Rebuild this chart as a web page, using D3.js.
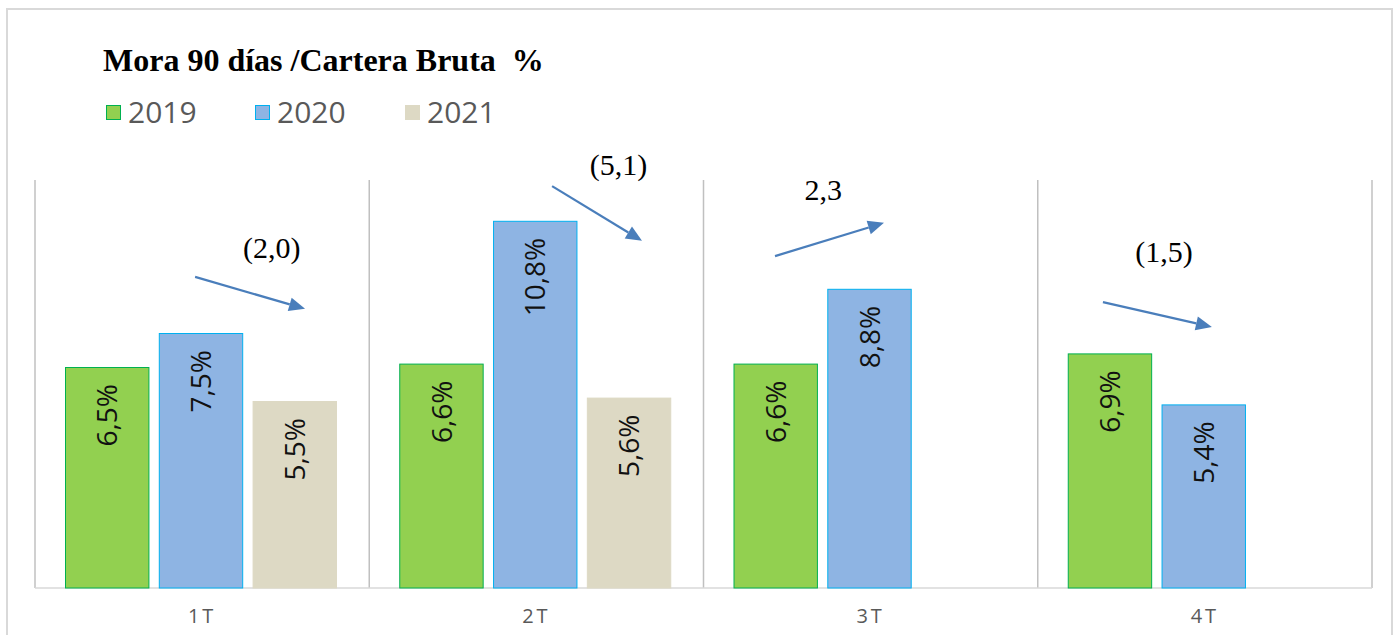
<!DOCTYPE html>
<html><head><meta charset="utf-8">
<script src="https://cdn.jsdelivr.net/npm/d3@7"></script>
<style>html,body{margin:0;padding:0;background:#fff;}</style>
</head><body>
<svg id="chart" width="1397" height="635"></svg>
<script>
const categories = ["1T", "2T", "3T", "4T"];
const years = ["2019", "2020", "2021"];
const values2019 = [6.5, 6.6, 6.6, 6.9];
const values2020 = [7.5, 10.8, 8.8, 5.4];
const values2021 = [5.5, 5.6, null, null];
const labels2019 = ["6,5%", "6,6%", "6,6%", "6,9%"];
const labels2020 = ["7,5%", "10,8%", "8,8%", "5,4%"];
const labels2021 = ["5,5%", "5,6%", null, null];
const annTexts = ["(2,0)", "(5,1)", "2,3", "(1,5)"];
// arrow start/end: fraction across category band, value on y scale
const annStartX = [0.479, 0.547, 0.214, 0.195];
const annStartV = [9.15, 11.82, 9.76, 8.41];
const annEndX = [0.808, 0.816, 0.540, 0.521];
const annEndV = [8.21, 10.21, 10.74, 7.68];
const annLabelX = [0.708, 0.746, 0.358, 0.378];
const annLabelV = [10.0, 12.44, 11.71, 9.88];

const fills = {"2019": "#92d050", "2020": "#8eb4e3", "2021": "#ddd9c4"};
const strokes = {"2019": "#00b050", "2020": "#00b0f0", "2021": "#ddd9c4"};
const seriesVals = {"2019": values2019, "2020": values2020, "2021": values2021};
const seriesLabels = {"2019": labels2019, "2020": labels2020, "2021": labels2021};

const svg = d3.select("#chart");
// outer frame
svg.append("rect").attr("x", 7).attr("y", 9).attr("width", 1385).attr("height", 700)
  .attr("fill", "none").attr("stroke", "#d9d9d9").attr("stroke-width", 2);

const pLeft = 35, pRight = 1372, pTop = 180, pBottom = 588;
const x0 = d3.scaleBand().domain(categories).range([pLeft, pRight]).paddingInner(0).paddingOuter(0);
const x1 = d3.scaleBand().domain(years).range([30, 302]).paddingInner(0.1).paddingOuter(0);
const y = d3.scaleLinear().domain([0, 12]).range([pBottom, pTop]);

// title
svg.append("text").attr("x", 103).attr("y", 71)
  .attr("font-family", "Liberation Serif, Times New Roman, serif").attr("font-weight", "bold")
  .attr("font-size", 32).attr("fill", "#000").attr("xml:space", "preserve")
  .text("Mora 90 días /Cartera Bruta  %");

// legend
const legX = [106, 255, 405];
years.forEach((yr, i) => {
  const g = svg.append("g").attr("transform", `translate(${legX[i]},105)`);
  g.append("rect").attr("x", 0.5).attr("y", 0.5).attr("width", 14).attr("height", 14)
    .attr("fill", fills[yr]).attr("stroke", strokes[yr]).attr("stroke-width", 1);
  g.append("text").attr("x", 22).attr("y", 18).attr("font-family", "Open Sans, sans-serif")
    .attr("font-size", 30).attr("fill", "#595959").text(yr);
});

// separators
const bounds = categories.map(c => x0(c)).concat([pRight]);
svg.selectAll("line.sep").data(bounds).enter().append("line").attr("class", "sep")
  .attr("x1", d => d).attr("x2", d => d).attr("y1", pTop).attr("y2", pBottom)
  .attr("stroke", "#c0c0c0").attr("stroke-width", 1.5);

// baseline
svg.append("line").attr("x1", pLeft).attr("x2", pRight).attr("y1", pBottom).attr("y2", pBottom)
  .attr("stroke", "#d9d9d9").attr("stroke-width", 1.5);

// x axis labels
const xAxis = d3.axisBottom(x0).tickSize(0).tickPadding(0);
const ax = svg.append("g").attr("transform", `translate(0,${pBottom})`).call(xAxis);
ax.select(".domain").remove();
ax.selectAll("text").attr("font-family", "Open Sans, sans-serif").attr("font-size", 20)
  .attr("fill", "#595959").attr("dy", "1.75em").attr("letter-spacing", 3);

// bars
categories.forEach((c, ci) => {
  years.forEach(yr => {
    const v = seriesVals[yr][ci];
    if (v == null) return;
    const bx = x0(c) + x1(yr);
    svg.append("rect").attr("x", bx + 0.5).attr("y", y(v) + 0.5)
      .attr("width", x1.bandwidth() - 1).attr("height", y(0) - y(v) - 0.5)
      .attr("fill", fills[yr]).attr("stroke", strokes[yr]).attr("stroke-width", 1);
    const cx = bx + x1.bandwidth() / 2;
    const ty = y(v) + 17;
    svg.append("text").attr("transform", `translate(${cx},${ty}) rotate(-90)`)
      .attr("text-anchor", "end").attr("dy", "0.36em")
      .attr("font-family", "Open Sans, sans-serif").attr("font-size", 28).attr("fill", "#111")
      .text(seriesLabels[yr][ci]);
  });
});

// annotations
const arrowColor = "#4a7ebb";
categories.forEach((c, i) => {
  const bw = x0.step();
  const sx = x0(c) + annStartX[i] * bw, sy = y(annStartV[i]);
  const ex = x0(c) + annEndX[i] * bw, ey = y(annEndV[i]);
  const ang = Math.atan2(ey - sy, ex - sx);
  const hl = 16, hw = 7;
  const bxp = ex - hl * Math.cos(ang), byp = ey - hl * Math.sin(ang);
  svg.append("line").attr("x1", sx).attr("y1", sy).attr("x2", bxp).attr("y2", byp)
    .attr("stroke", arrowColor).attr("stroke-width", 2.2);
  const px = -Math.sin(ang), py = Math.cos(ang);
  const pts = [[ex, ey], [bxp + px * hw, byp + py * hw], [bxp - px * hw, byp - py * hw]];
  svg.append("path").attr("d", d3.line()(pts) + "Z").attr("fill", arrowColor);
  svg.append("text").attr("x", x0(c) + annLabelX[i] * bw).attr("y", y(annLabelV[i]))
    .attr("text-anchor", "middle").attr("dy", "0.33em")
    .attr("font-family", "Liberation Serif, Times New Roman, serif").attr("font-size", 30)
    .attr("fill", "#000").text(annTexts[i]);
});
</script>
</body></html>
